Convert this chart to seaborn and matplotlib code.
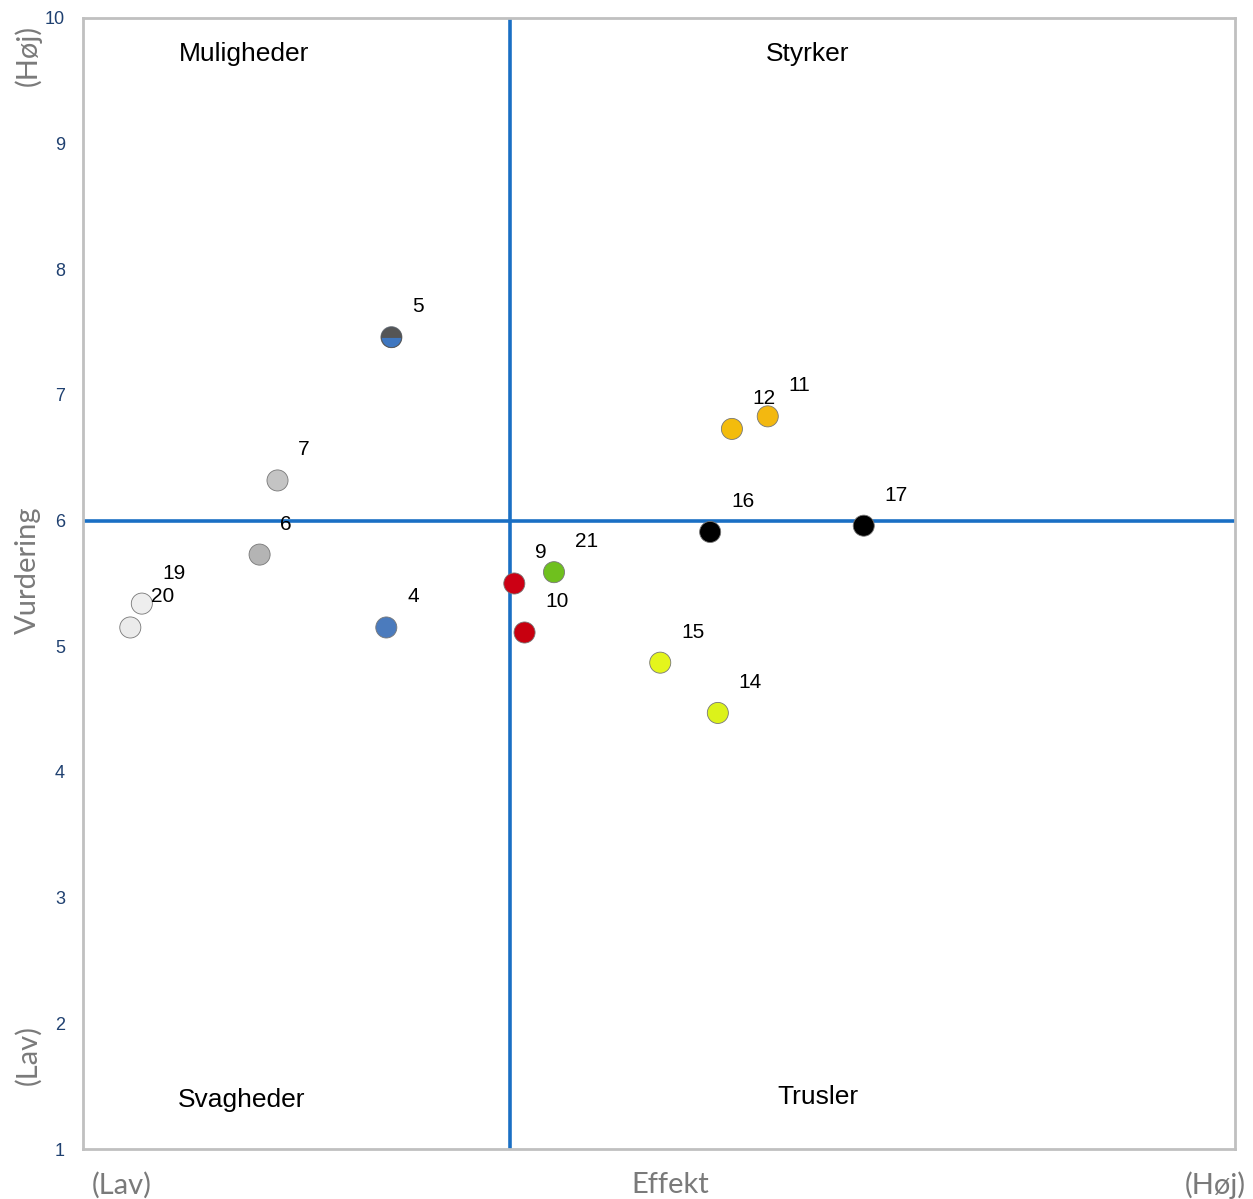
import numpy as np
import pandas as pd
import matplotlib
matplotlib.use("Agg")
import matplotlib.pyplot as plt
import seaborn as sns

# data (x on a 1-10 scale, y = Vurdering)
labels = ["5", "7", "6", "19", "20", "4", "9", "10", "21", "15", "14", "16", "17", "12", "11"]
effekt = [3.41, 2.52, 2.38, 1.46, 1.37, 3.37, 4.37, 4.45, 4.68, 5.51, 5.96, 5.90, 7.10, 6.07, 6.35]
vurdering = [7.46, 6.32, 5.73, 5.34, 5.15, 5.15, 5.50, 5.11, 5.59, 4.87, 4.47, 5.91, 5.96, 6.73, 6.83]
colors = ["#3f77c0", "#c4c4c4", "#b4b4b4", "#eeeeee", "#ebebeb", "#4b7bbd",
          "#cc0014", "#c8000f", "#6fc01e", "#e4f51c", "#dcf21a", "#000000",
          "#000000", "#f3bc0c", "#f3b810"]

yticks = [1, 2, 3, 4, 5, 6, 7, 8, 9, 10]
x_split = 4.34
y_split = 6.0
quadrants = ["Muligheder", "Styrker", "Svagheder", "Trusler"]

df = pd.DataFrame({"label": labels, "effekt": effekt, "vurdering": vurdering, "color": colors})

sns.set_style("white")
plt.rcParams["font.family"] = ["Liberation Sans", "DejaVu Sans"]

fig = plt.figure(figsize=(12.53, 11.99), dpi=100)
ax = fig.add_axes([0.0662, 0.0417, 0.9194, 0.9433])

ax.axvline(x_split, color="#1a6fc4", lw=2.6, zorder=1)
ax.axhline(y_split, color="#1a6fc4", lw=2.6, zorder=1)

sns.scatterplot(data=df, x="effekt", y="vurdering", hue="label", palette=dict(zip(labels, colors)),
                s=230, edgecolor="#777777", linewidth=0.6, legend=False, ax=ax, zorder=3)

# point 5 is half grey on top
ax.plot(effekt[0], vurdering[0], "o", ms=14.5, fillstyle="top", markerfacecolor="#555555",
        markerfacecoloralt="#3f77c0", markeredgecolor="#555555", markeredgewidth=0.6, zorder=4)

for lab, x, y in zip(labels, effekt, vurdering):
    ax.annotate(lab, (x, y), xytext=(15, 22), textcoords="offset points",
                ha="left", va="center", fontsize=15, color="black", zorder=5)

ax.set_xlim(1, 10)
ax.set_ylim(1, 10)
ax.set_xticks([])
ax.set_yticks(yticks)
ax.set_yticklabels([str(t) for t in yticks], fontsize=13, color="#1f4070")
ax.tick_params(axis="y", length=0, pad=13)
for sp in ax.spines.values():
    sp.set_color("#c0c0c0")
    sp.set_linewidth(2)
ax.set_xlabel("")
ax.set_ylabel("")

# quadrant names
qx = [2.26, 6.66, 2.24, 6.74]
qy = [9.71, 9.71, 1.39, 1.41]
for name, x, y in zip(quadrants, qx, qy):
    ax.text(x, y, name, fontsize=19, ha="center", va="center", color="black")

thin = dict(family=["Lato", "Open Sans", "DejaVu Sans"], fontweight="normal", color="#7a7a7a", fontsize=21)
fig.text(122 / 1253, 1 - 1185 / 1199, "(Lav)", ha="center", va="center", **thin)
fig.text(670 / 1253, 1 - 1185 / 1199, "Effekt", ha="center", va="center", **thin)
fig.text(1215 / 1253, 1 - 1185 / 1199, "(Høj)", ha="center", va="center", **thin)
fig.text(28 / 1253, 1 - 55 / 1199, "(Høj)", rotation=90, ha="center", va="center", **thin)
fig.text(28 / 1253, 1 - 570 / 1199, "Vurdering", rotation=90, ha="center", va="center", **thin)
fig.text(28 / 1253, 1 - 1055 / 1199, "(Lav)", rotation=90, ha="center", va="center", **thin)

plt.savefig("out.png", dpi=100)
